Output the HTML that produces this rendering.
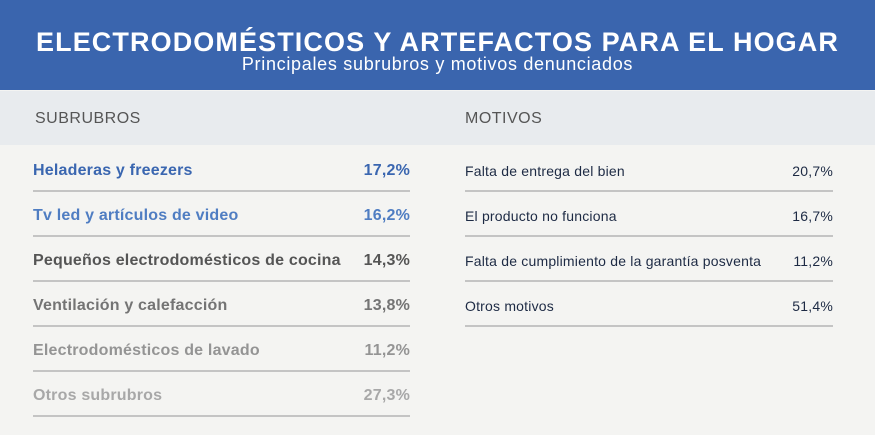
<!DOCTYPE html>
<html><head><meta charset="utf-8"><style>
*{margin:0;padding:0;box-sizing:border-box}
body{width:875px;height:435px;background:#f4f4f2;font-family:"Liberation Sans",sans-serif;position:relative;overflow:hidden}
.hdr{position:absolute;left:0;top:0;width:875px;height:90px;background:#3a65ae;color:#fff;text-align:center}
.t1{position:absolute;left:0;width:875px;top:27px;font-size:27px;font-weight:bold;letter-spacing:1.1px}
.t2{position:absolute;left:0;width:875px;top:54px;font-size:18px;letter-spacing:0.7px}
.band{position:absolute;left:0;top:91px;width:875px;height:54px;background:#e8ebee}
.sh{position:absolute;top:110px;font-size:16px;color:#555;letter-spacing:0.5px}
.row{position:absolute;display:flex;justify-content:space-between;align-items:center;border-bottom:2px solid #c4c4c4;padding-top:5px}
.l{left:33px;width:377px;height:45px;font-size:16px;font-weight:bold;letter-spacing:0.2px}
.r{left:465px;width:368px;height:45px;font-size:14px;color:#1d2a44;letter-spacing:0.2px}
</style></head><body>
<div class="hdr"><div class="t1">ELECTRODOMÉSTICOS Y ARTEFACTOS PARA EL HOGAR</div><div class="t2">Principales subrubros y motivos denunciados</div></div>
<div class="band"></div>
<div class="sh" style="left:35px">SUBRUBROS</div>
<div class="sh" style="left:465px">MOTIVOS</div>
<div class="row l" style="top:147px;color:#3a66b0"><span>Heladeras y freezers</span><span>17,2%</span></div>
<div class="row l" style="top:192px;color:#4f7dc2"><span>Tv led y artículos de video</span><span>16,2%</span></div>
<div class="row l" style="top:237px;color:#555"><span>Pequeños electrodomésticos de cocina</span><span>14,3%</span></div>
<div class="row l" style="top:282px;color:#747474"><span>Ventilación y calefacción</span><span>13,8%</span></div>
<div class="row l" style="top:327px;color:#949494"><span>Electrodomésticos de lavado</span><span>11,2%</span></div>
<div class="row l" style="top:372px;color:#a8a8a8"><span>Otros subrubros</span><span>27,3%</span></div>
<div class="row r" style="top:147px"><span>Falta de entrega del bien</span><span>20,7%</span></div>
<div class="row r" style="top:192px"><span>El producto no funciona</span><span>16,7%</span></div>
<div class="row r" style="top:237px"><span>Falta de cumplimiento de la garantía posventa</span><span>11,2%</span></div>
<div class="row r" style="top:282px"><span>Otros motivos</span><span>51,4%</span></div>
</body></html>
